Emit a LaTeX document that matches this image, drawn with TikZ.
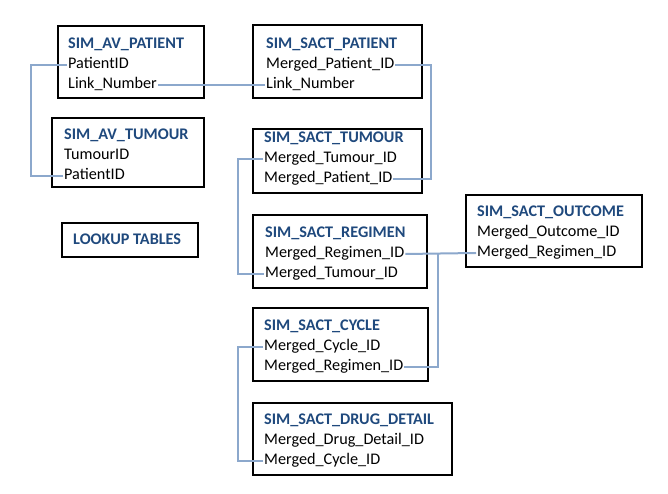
\documentclass[tikz,border=0pt]{standalone}
\usepackage{fontspec}
\setmainfont{Carlito}
\usepackage{tikz}
\usetikzlibrary{positioning}
\definecolor{titleblue}{RGB}{31,73,125}
\definecolor{linkblue}{RGB}{140,168,204}
\tikzstyle{tablebox} = [rectangle, draw=black, line width=1.2pt, fill=white, inner sep=0pt]
\tikzstyle{tabletitle} = [anchor=west, inner sep=1pt, text height=11pt, text depth=3.5pt, font=\fontsize{16.2}{19}\selectfont\bfseries, text=titleblue]
\tikzstyle{field} = [anchor=west, inner sep=1pt, text height=11pt, text depth=3.5pt, font=\fontsize{16.2}{19}\selectfont]
\tikzstyle{link} = [draw=linkblue, line width=2pt]

\begin{document}
\begin{tikzpicture}[x=1pt, y=1pt]
        \useasboundingbox (0,0) rectangle (668,494);

        % table boxes
        \node (avpat) [tablebox, minimum width=146pt, minimum height=72pt] at (131,432) {};
        \node (avtum) [tablebox, minimum width=152pt, minimum height=69pt] at (128,341.5) {};
        \node (lookup) [tablebox, minimum width=136pt, minimum height=34pt] at (130,254) {};
        \node (spat) [tablebox, minimum width=169pt, minimum height=73pt] at (337.5,432.5) {};
        \node (stum) [tablebox, minimum width=169pt, minimum height=64pt] at (337.5,333) {};
        \node (sreg) [tablebox, minimum width=174pt, minimum height=73pt] at (340,242.5) {};
        \node (sout) [tablebox, minimum width=176pt, minimum height=72pt] at (554,263) {};
        \node (scyc) [tablebox, minimum width=175pt, minimum height=73pt] at (340.5,149.5) {};
        \node (sdrug) [tablebox, minimum width=199pt, minimum height=72pt] at (352.5,55) {};

        % titles and fields
        \node (avp1) [tabletitle] at (67,449) {SIM\_AV\_PATIENT};
        \node (avp2) [field] at ([yshift=-20pt]avp1.west) {PatientID};
        \node (avp3) [field] at ([yshift=-20pt]avp2.west) {Link\_Number};

        \node (avt1) [tabletitle] at (63,358) {SIM\_AV\_TUMOUR};
        \node (avt2) [field] at ([yshift=-20pt]avt1.west) {TumourID};
        \node (avt3) [field] at ([yshift=-20pt]avt2.west) {PatientID};

        \node (lk1) [tabletitle] at (72,253) {LOOKUP TABLES};

        \node (sp1) [tabletitle] at (265,449) {SIM\_SACT\_PATIENT};
        \node (sp2) [field] at ([yshift=-20pt]sp1.west) {Merged\_Patient\_ID};
        \node (sp3) [field] at ([yshift=-20pt]sp2.west) {Link\_Number};

        \node (st1) [tabletitle] at (263,355) {SIM\_SACT\_TUMOUR};
        \node (st2) [field] at ([yshift=-20pt]st1.west) {Merged\_Tumour\_ID};
        \node (st3) [field] at ([yshift=-20pt]st2.west) {Merged\_Patient\_ID};

        \node (sr1) [tabletitle] at (264,260) {SIM\_SACT\_REGIMEN};
        \node (sr2) [field] at ([yshift=-20pt]sr1.west) {Merged\_Regimen\_ID};
        \node (sr3) [field] at ([yshift=-20pt]sr2.west) {Merged\_Tumour\_ID};

        \node (so1) [tabletitle] at (476,281) {SIM\_SACT\_OUTCOME};
        \node (so2) [field] at ([yshift=-20pt]so1.west) {Merged\_Outcome\_ID};
        \node (so3) [field] at ([yshift=-20pt]so2.west) {Merged\_Regimen\_ID};

        \node (sc1) [tabletitle] at (263,167) {SIM\_SACT\_CYCLE};
        \node (sc2) [field] at ([yshift=-20pt]sc1.west) {Merged\_Cycle\_ID};
        \node (sc3) [field] at ([yshift=-20pt]sc2.west) {Merged\_Regimen\_ID};

        \node (sd1) [tabletitle] at (263,73) {SIM\_SACT\_DRUG\_DETAIL};
        \node (sd2) [field] at ([yshift=-20pt]sd1.west) {Merged\_Drug\_Detail\_ID};
        \node (sd3) [field] at ([yshift=-20pt]sd2.west) {Merged\_Cycle\_ID};

        % links
        \draw [link] (avp2.west) -- ++(-36,0) |- (avt3.west);
        \draw [link] (avp3.east) -- (sp3.west);
        \draw [link] (sp2.east) -- ++(36,0) |- (st3.east);
        \draw [link] (st2.west) -- ++(-25,0) |- (sr3.west);
        \draw [link] (sr2.east) -- (so3.west);
        \coordinate (regjoin) at ([xshift=33pt]sr2.east);
        \draw [link] (regjoin) |- (sc3.east);
        \draw [link] (sc2.west) -- ++(-25,0) |- (sd3.west);

    \end{tikzpicture}
\end{document}
